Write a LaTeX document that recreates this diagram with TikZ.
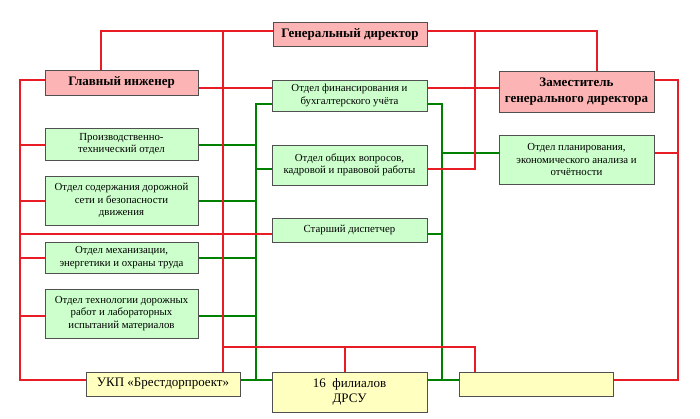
\documentclass[tikz,border=0pt]{standalone}
\usepackage{fontspec}
\setmainfont{Liberation Serif}
\usetikzlibrary{backgrounds}
\definecolor{boxred}{RGB}{252,180,180}
\definecolor{boxgreen}{RGB}{204,255,204}
\definecolor{boxyellow}{RGB}{255,255,192}
\definecolor{linered}{RGB}{232,28,36}
\definecolor{linegreen}{RGB}{0,128,0}
\definecolor{boxedge}{RGB}{80,80,80}
\tikzset{
  basebox/.style={draw=boxedge, line width=0.9pt, rectangle, inner sep=1pt, align=center},
  redbox/.style={basebox, fill=boxred, font=\fontsize{13}{16}\selectfont\bfseries},
  greenbox/.style={basebox, fill=boxgreen, font=\fontsize{10.8}{12.3}\selectfont},
  yellowbox/.style={basebox, fill=boxyellow, font=\fontsize{13}{14.5}\selectfont},
  redl/.style={draw=linered, line width=2pt},
  greenl/.style={draw=linegreen, line width=2pt},
}
\begin{document}
\begin{tikzpicture}[x=1pt,y=-1pt]
\useasboundingbox (0,0) rectangle (700,418);
% boxes
\node[redbox, minimum width=154pt, minimum height=24pt] (gd) at (350,34) {Генеральный директор};
\node[redbox, minimum width=153pt, minimum height=25pt] (gi) at (121.5,82.5) {Главный инженер};
\node[greenbox, minimum width=155pt, minimum height=31pt] (fin) at (349.5,95.5) {Отдел финансирования и\\бухгалтерского учёта};
\node[greenbox, minimum width=155pt, minimum height=40pt] (obsch) at (349.5,165) {Отдел общих вопросов,\\кадровой и правовой работы};
\node[greenbox, minimum width=155pt, minimum height=24pt] (disp) at (349.5,230) {Старший диспетчер};
\node[redbox, minimum width=155pt, minimum height=41pt] (zam) at (576.5,91.5) {Заместитель\\генерального директора};
\node[greenbox, minimum width=155pt, minimum height=49pt] (plan) at (576.5,159.5) {Отдел планирования,\\экономического анализа и\\отчётности};
\node[greenbox, minimum width=153pt, minimum height=32pt] (pto) at (121.5,144) {Производственно-\\технический отдел};
\node[greenbox, minimum width=153pt, minimum height=49pt] (sod) at (121.5,200.5) {Отдел содержания дорожной\\сети и безопасности\\движения};
\node[greenbox, minimum width=153pt, minimum height=31pt] (meh) at (121.5,257.5) {Отдел механизации,\\энергетики и охраны труда};
\node[greenbox, minimum width=153pt, minimum height=49pt] (teh) at (121.5,313.5) {Отдел технологии дорожных\\работ и лабораторных\\испытаний материалов};
\node[yellowbox, minimum width=154pt, minimum height=24pt] (ukp) at (163,384) {УКП «Брестдорпроект»};
\node[yellowbox, minimum width=155pt, minimum height=40pt] (fil) at (349.5,392) {16\ \ филиалов\\ДРСУ};
\node[yellowbox, minimum width=154pt, minimum height=24pt] (empty) at (536,384) {};
% bus coordinates
\coordinate (rA) at (223,31);
\coordinate (rB) at (223,347);
\coordinate (rC) at (475,347);
\coordinate (rD) at (475,31);
\begin{pgfonlayer}{background}
% green connectors
\draw[greenl] ([yshift=-8.5pt]fin.west) -- ++(-16,0) |- ([yshift=12pt]fil.west);
\draw[greenl] ([yshift=-1pt]pto.east) -- ++(58,0);
\draw[greenl] (sod.east) -- ++(58,0);
\draw[greenl] (meh.east) -- ++(58,0);
\draw[greenl] ([yshift=-2.5pt]teh.east) -- ++(58,0);
\draw[greenl] ([yshift=4pt]ukp.east) -- ++(16,0);
\draw[greenl] ([yshift=-4pt]obsch.west) -- ++(-16,0);
\draw[greenl] ([yshift=-8.5pt]fin.east) -- ++(15,0) |- ([yshift=4pt]empty.west);
\draw[greenl] ([yshift=12pt]fil.east) -- ++(15,0);
\draw[greenl] ([yshift=-4pt]disp.east) -- ++(15,0);
\draw[greenl] ([yshift=6.5pt]plan.west) -- ++(-57,0);
% red connectors
\draw[redl] ([yshift=3pt]gd.west) -| ([xshift=-20.5pt]gi.north);
\draw[redl] (rA) -- (rA |- ukp.north);
\draw[redl] (rB) -- (rC) -- (rC |- empty.north);
\draw[redl] ([xshift=-4.5pt]fil.north) -- ++(0,-25);
\draw[redl] ([yshift=3pt]gd.east) -| ([xshift=20.5pt]zam.north);
\draw[redl] (rD) |- ([yshift=-4pt]obsch.east);
\draw[redl] ([yshift=-5.5pt]gi.east) -- ([yshift=7.5pt]fin.west);
\draw[redl] ([yshift=7.5pt]fin.east) -- ([yshift=3.5pt]zam.west);
\draw[redl] ([yshift=11.5pt]zam.east) -- ++(24,0) |- ([yshift=4pt]empty.east);
\draw[redl] ([yshift=6.5pt]plan.east) -- ++(24,0);
\draw[redl] ([yshift=2.5pt]gi.west) -- ++(-25,0) |- ([yshift=4pt]ukp.west);
\draw[redl] ([yshift=-1pt]pto.west) -- ++(-25,0);
\draw[redl] (sod.west) -- ++(-25,0);
\draw[redl] (meh.west) -- ++(-25,0);
\draw[redl] ([yshift=-2.5pt]teh.west) -- ++(-25,0);
\draw[redl] ([yshift=-4pt]disp.west) -- ++(-252,0);
\end{pgfonlayer}
\end{tikzpicture}
\end{document}
